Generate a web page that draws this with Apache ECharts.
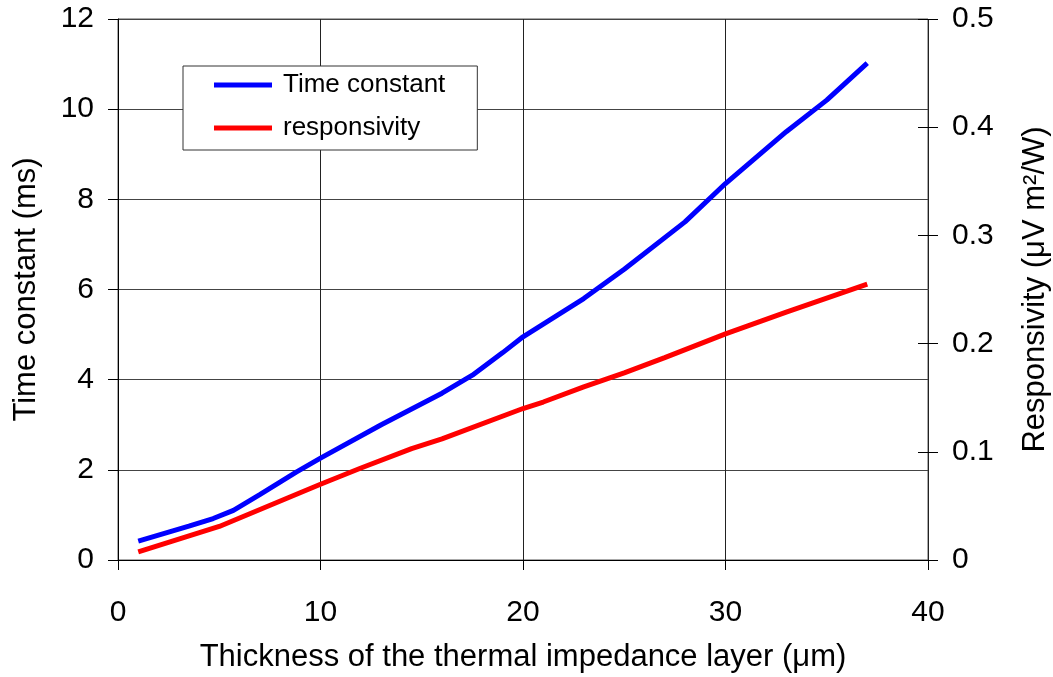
<!DOCTYPE html>
<html>
<head>
<meta charset="utf-8">
<script src="https://cdn.jsdelivr.net/npm/echarts@6/dist/echarts.min.js"></script>
<style>
  html, body { margin: 0; padding: 0; background: #fff; }
  #chart { width: 1053px; height: 677px; }
</style>
</head>
<body>
<div id="chart"></div>
<script>
// Time constant (ms) vs. thermal impedance layer thickness (µm)
const tcThickness = [1, 3.5, 4.7, 5.7, 7, 8.8, 10, 13, 16, 17.5, 19, 20, 23, 25, 28, 30, 33, 35, 37];
const tcValues    = [0.42, 0.75, 0.92, 1.1, 1.45, 1.95, 2.26, 3.0, 3.7, 4.1, 4.6, 4.95, 5.8, 6.45, 7.5, 8.35, 9.5, 10.2, 11.02];

// Responsivity (µV m²/W) vs. thickness (µm)
const respThickness = [1, 5, 10, 12, 14.5, 16, 20, 21, 23, 25, 27, 30, 33, 37];
const respValues    = [0.0075, 0.031, 0.070, 0.085, 0.103, 0.112, 0.140, 0.146, 0.160, 0.173, 0.187, 0.209, 0.229, 0.255];

const xTicks = { min: 0, max: 40, interval: 10 };
const leftTicks = { min: 0, max: 12, interval: 2 };
const rightTicks = { min: 0, max: 0.5, interval: 0.1 };

const FONT = 'Liberation Sans, Arial, sans-serif';

const chart = echarts.init(document.getElementById('chart'), null, { renderer: 'canvas' });

const pair = (xs, ys) => xs.map((x, i) => [x, ys[i]]);

chart.setOption({
  animation: false,
  backgroundColor: '#fff',
  textStyle: { fontFamily: FONT, color: '#000' },
  grid: {
    left: 118, right: 125, top: 19, bottom: 117,
    outerBoundsMode: 'none',
    containLabel: false,
    show: true,
    borderColor: '#555',
    borderWidth: 1,
    backgroundColor: 'transparent'
  },
  legend: {
    orient: 'vertical',
    left: 183,
    top: 66,
    padding: [6, 32, 9, 31],
    itemGap: 17,
    itemWidth: 58,
    itemHeight: 5,
    icon: 'rect',
    borderColor: '#333',
    borderWidth: 1,
    backgroundColor: '#fff',
    textStyle: { fontFamily: FONT, fontSize: 26, color: '#000', padding: [0, 0, 0, 6] },
    data: ['Time constant', 'responsivity']
  },
  xAxis: {
    type: 'value',
    min: xTicks.min, max: xTicks.max, interval: xTicks.interval,
    name: 'Thickness of the thermal impedance layer (μm)',
    nameLocation: 'middle',
    nameGap: 82,
    nameTextStyle: { fontFamily: FONT, fontSize: 31, color: '#000' },
    axisLine: { show: true, lineStyle: { color: '#000', width: 1 } },
    axisTick: { show: true, inside: false, length: 10, lineStyle: { color: '#000' } },
    axisLabel: { margin: 38, fontFamily: FONT, fontSize: 30, color: '#000' },
    splitLine: { show: true, lineStyle: { color: '#222', width: 1 } }
  },
  yAxis: [
    {
      type: 'value',
      position: 'left',
      min: leftTicks.min, max: leftTicks.max, interval: leftTicks.interval,
      name: 'Time constant (ms)',
      nameLocation: 'middle',
      nameGap: 76,
      nameRotate: 90,
      nameTextStyle: { fontFamily: FONT, fontSize: 31, color: '#000' },
      axisLine: { show: true, onZero: false, lineStyle: { color: '#000', width: 1 } },
      axisTick: { show: true, inside: false, length: 10, lineStyle: { color: '#000' } },
      axisLabel: { margin: 24, fontFamily: FONT, fontSize: 30, color: '#000' },
      splitLine: { show: true, lineStyle: { color: '#444', width: 1 } }
    },
    {
      // drawn 10px inside the plot edge so its ticks straddle the frame line
      type: 'value',
      position: 'right',
      offset: -10,
      min: rightTicks.min, max: rightTicks.max, interval: rightTicks.interval,
      name: 'Responsivity (μV m²/W)',
      nameLocation: 'middle',
      nameGap: 102,
      nameRotate: 90,
      nameTextStyle: { fontFamily: FONT, fontSize: 31, color: '#000' },
      axisLine: { show: false, onZero: false },
      axisTick: { show: true, inside: false, length: 20, lineStyle: { color: '#000' } },
      axisLabel: { margin: 34, fontFamily: FONT, fontSize: 30, color: '#000' },
      splitLine: { show: false }
    }
  ],
  series: [
    {
      name: 'Time constant',
      type: 'line',
      yAxisIndex: 0,
      data: pair(tcThickness, tcValues),
      showSymbol: false,
      symbol: 'none',
      color: '#0000ff',
      lineStyle: { color: '#0000ff', width: 5 },
      z: 3
    },
    {
      name: 'responsivity',
      type: 'line',
      yAxisIndex: 1,
      data: pair(respThickness, respValues),
      showSymbol: false,
      symbol: 'none',
      color: '#ff0000',
      lineStyle: { color: '#ff0000', width: 5 },
      z: 3
    }
  ]
});
</script>
</body>
</html>
